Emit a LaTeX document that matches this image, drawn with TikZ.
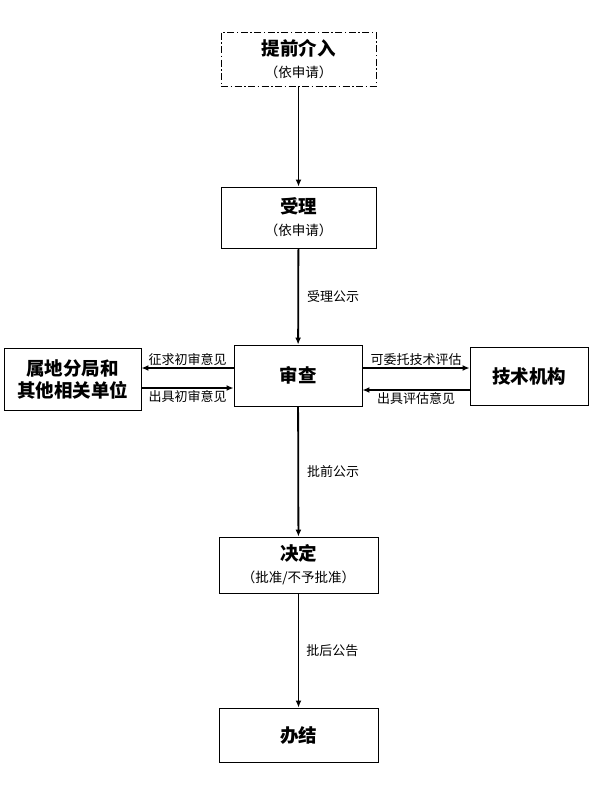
\documentclass[tikz,border=0pt]{standalone}
\usepackage{fontspec}
\setmainfont{Noto Sans CJK SC}
\usetikzlibrary{arrows.meta, calc}
\newcommand{\subline}[1]{{\fontsize{13.5}{16}\selectfont\mdseries #1}}
\tikzset{
  every picture/.style={line width=0.9pt},
  box/.style={draw=black, align=center, inner sep=2pt, font=\fontsize{18.5}{22}\selectfont\bfseries},
  arrow/.style={-{Latex[length=7pt, width=6pt]}, draw=black, line width=1.8pt},
  lab/.style={font=\fontsize{13}{15}\selectfont, inner sep=2pt},
}

\begin{document}
\begin{tikzpicture}[x=1pt, y=-1pt,
  step box/.style={box, minimum width=155pt, minimum height=#1},
  side box/.style={box, minimum height=60pt},
  dashdot/.style={dash pattern=on 7pt off 2.5pt on 1.5pt off 2.5pt}]
  \useasboundingbox (0,0) rectangle (593,809);
  \node[step box=54pt, dashdot] (adv) at (298.5,59) {提前介入\\\subline{（依申请）}};
  \node[step box=61pt] (accept) at (298.5,217.5) {受理\\\subline{（依申请）}};
  \node[box, minimum width=128pt, minimum height=61pt] (review) at (298,375.5) {审查};
  \node[side box, minimum width=137pt, minimum height=62pt] (local) at (72.5,379) {属地分局和\\其他相关单位};
  \node[side box, minimum width=118pt, minimum height=58pt] (tech) at (529,376) {技术机构};
  \node[box, minimum width=159pt, minimum height=56pt] (decide) at (298.5,565) {决定\\\subline{（批准/不予批准）}};
  \node[box, minimum width=159pt, minimum height=54pt] (done) at (298.5,735) {办结};
  % main line
  \draw[arrow] (adv) -- (accept);
  \draw[arrow] (accept) -- node[lab, right=6pt] {受理公示} (review);
  \draw[arrow] (review) -- node[lab, right=6pt] {批前公示} (decide);
  \draw[arrow] (decide) -- node[lab, right=5pt] {批后公告} (done);
  % side arrows
  \draw[arrow] (review.west) ++(0,-7.5) coordinate (lw1) -- node[lab, above] {征求初审意见} (lw1 -| local.east);
  \draw[arrow] (local.east |- review.west) ++(0,12.5) coordinate (lw2) -- node[lab, below] {出具初审意见} (lw2 -| review.west);
  \draw[arrow] (review.east) ++(0,-7.5) coordinate (rw1) -- node[lab, above] {可委托技术评估} (rw1 -| tech.west);
  \draw[arrow] (tech.west |- review.east) ++(0,14.5) coordinate (rw2) -- node[lab, below] {出具评估意见} (rw2 -| review.east);
\end{tikzpicture}
\end{document}
